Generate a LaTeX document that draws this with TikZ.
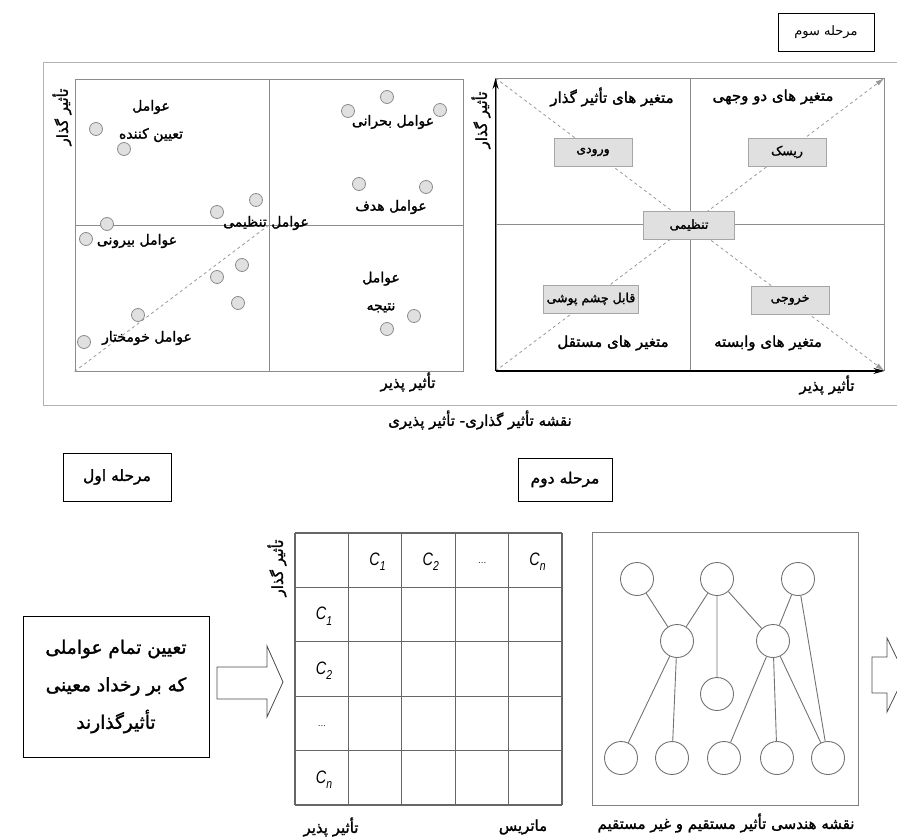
\documentclass[tikz,border=0pt]{standalone}
\usepackage{graphicx}
\usepackage{fontspec}
\setsansfont{Liberation Sans}
\newfontfamily\fafont[Script=Arabic]{DejaVu Sans}
\newfontfamily\faboldfont[Script=Arabic,FakeBold=1.6]{DejaVu Sans}
\TeXXeTstate=1
\usetikzlibrary{positioning,arrows.meta}
\newcommand{\fa}[1]{{\faboldfont\beginR #1\endR}}
\newcommand{\fn}[1]{{\fafont\beginR #1\endR}}
\newcommand{\cname}[1]{\scalebox{0.8}[1]{\textsf{\textit{C}\raisebox{-0.3em}{\fontsize{13}{13}\selectfont\textit{#1}}}}}

\begin{document}
\begin{tikzpicture}[
    x=1pt, y=-1pt,
    panel/.style={rectangle, draw=black!45, line width=0.9pt, minimum width=388pt, minimum height=292pt, inner sep=0pt},
    stage/.style={rectangle, draw, line width=0.9pt, font=\fontsize{15.5}{18}\selectfont},
    tag/.style={rectangle, draw=black!35, fill=black!12, line width=0.8pt, minimum width=78pt, minimum height=28pt, font=\fontsize{12.5}{14}\selectfont},
    dot/.style={circle, draw=black!45, fill=black!12, line width=0.8pt, minimum size=13pt, inner sep=0pt},
    vtx/.style={circle, draw=black!55, line width=0.9pt, minimum size=33pt, inner sep=0pt},
    lbl/.style={font=\fontsize{14}{28}\selectfont, align=center, inner sep=1pt},
    heading/.style={font=\fontsize{15}{18}\selectfont, inner sep=1pt},
    cell/.style={font=\fontsize{18}{18}\selectfont, inner sep=0pt},
    midline/.style={draw=black!45, line width=0.9pt},
    gridline/.style={draw=black!60, line width=1.1pt},
    axis/.style={line width=1.6pt, -{Stealth[length=11pt,width=6pt]}},
    diag/.style={dashed, draw=black!40, line width=0.8pt},
    hollow/.style={draw=black!70, line width=0.8pt, fill=white}
]
    \clip (0,0) rectangle (897,837);

    % Frame of the third stage
    \draw[black!30, line width=1pt] (897,63) -- (43,63) -- (43,405) -- (897,405);
    \node[stage, minimum width=96pt, minimum height=38pt, font=\fontsize{13}{15}\selectfont] (stage3) at (826,32) {\fn{مرحله سوم}};

    % Left panel
    \node[panel] (lpanel) at (269,225) {};
    \draw[midline] (lpanel.north) -- (lpanel.south) (lpanel.west) -- (lpanel.east);
    \draw[diag] (lpanel.south west) -- (lpanel.center);
    \foreach \x/\y [count=\i] in {96/129, 124/149, 387/97, 348/111, 440/110, 359/184, 426/187,
        256/200, 217/212, 107/224, 86/239, 242/265, 217/277, 238/303, 138/315, 84/342, 414/316, 387/329}
        \node[dot] (dot\i) at (\x,\y) {};

    % Labels
    \node[lbl] (determ) at (151,121) {\fa{عوامل}\\\fa{تعیین کننده}};
    \node[lbl] (crit) at (393,122) {\fa{عوامل بحرانی}};
    \node[lbl] (target) at (391,207) {\fa{عوامل هدف}};
    \node[lbl] (regulf) at (266,223) {\fa{عوامل تنظیمی}};
    \node[lbl] (extern) at (137,241) {\fa{عوامل بیرونی}};
    \node[lbl] (result) at (381,292) {\fa{عوامل}\\\fa{نتیجه}};
    \node[lbl] (auton) at (147,338) {\fa{عوامل خومختار}};
    \node[heading, rotate=90] (lyaxis) at (62,117) {\fa{تأثیر گذار}};
    \node[heading] (lxaxis) at (408,382) {\fa{تأثیر پذیر}};

    % Right panel
    \node[panel] (rpanel) at (690,224.5) {};
    \draw[midline] (rpanel.north) -- (rpanel.south) (rpanel.west) -- (rpanel.east);
    \draw[diag, -{Latex[length=9pt,width=5pt]}] (rpanel.south west) -- (rpanel.north east);
    \draw[diag, -{Latex[length=9pt,width=5pt]}] (rpanel.north west) -- (rpanel.south east);
    \draw[axis] (rpanel.south west) -- (rpanel.north west);
    \draw[axis] (rpanel.south west) -- (rpanel.south east);
    \node[tag] (input) at (593,152) {\fa{ورودی}};
    \node[tag] (risk) at (787,152) {\fa{ریسک}};
    \node[tag, minimum width=91pt] (regul) at (689,225) {\fa{تنظیمی}};
    \node[tag] (ignor) at (591,299) {\fa{قابل چشم پوشی}};
    \node[tag] (output) at (790,300) {\fa{خروجی}};
    \node[heading] (influent) at (612,97) {\fa{متغیر های تأثیر گذار}};
    \node[heading] (dual) at (773,97) {\fa{متغیر های دو وجهی}};
    \node[heading] (indep) at (613,343) {\fa{متغیر های مستقل}};
    \node[heading] (depend) at (768,343) {\fa{متغیر های وابسته}};
    \node[heading, rotate=90] (ryaxis) at (481,120) {\fa{تأثیر گذار}};
    \node[heading] (rxaxis) at (827,385) {\fa{تأثیر پذیر}};
    \node[heading] (mapcap) at (480,420) {\fa{نقشه تأثیر گذاری- تأثیر پذیری}};

    % First stage
    \node[stage, minimum width=108pt, minimum height=48pt] (stage1) at (117,477) {\fa{مرحله اول}};
    \node[rectangle, draw, line width=0.9pt, minimum width=186pt, minimum height=141pt, align=center,
        font=\fontsize{18.5}{37.5}\selectfont] (factors) at (116,686.5)
        {\fa{تعیین تمام عواملی}\\\fa{که بر رخداد معینی}\\\fa{تأثیرگذارند}};
    \draw[hollow] (217,667) -- (267,667) -- (267,646) -- (283,682) -- (267,717) -- (267,699) -- (217,699) -- cycle;

    % Second stage: matrix
    \node[stage, minimum width=94pt, minimum height=43pt] (stage2) at (565,479.5) {\fa{مرحله دوم}};
    \foreach \i in {0,...,5} {
        \draw[gridline] ({295+53.4*\i},533) -- ({295+53.4*\i},805);
        \draw[gridline] (295,{533+54.4*\i}) -- (562,{533+54.4*\i});
    }
    \foreach \k/\s in {1/1, 2/2, 4/n} {
        \node[cell] (col\k) at ({324+53.4*\k},562) {\cname{\s}};
        \node[cell] (row\k) at (324,{562+54.4*\k}) {\cname{\s}};
    }
    \node[cell, font=\fontsize{10}{10}\selectfont] (col3) at ({322+53.4*3},563) {...};
    \node[cell, font=\fontsize{10}{10}\selectfont] (row3) at (322,{563+54.4*3}) {...};
    \node[heading, rotate=90] (myaxis) at (277,568) {\fa{تأثیر گذار}};
    \node[heading] (mxaxis) at (331,827) {\fa{تأثیر پذیر}};
    \node[heading] (mcap) at (523,827) {\fa{ماتریس}};

    % Second stage: graph
    \node[rectangle, draw=black!50, line width=0.9pt, minimum width=266pt, minimum height=273pt] (gbox) at (725,668.5) {};
    \node[vtx] (t1) at (637,579) {};
    \node[vtx] (t2) at (717,579) {};
    \node[vtx] (t3) at (798,579) {};
    \node[vtx] (m1) at (677,641) {};
    \node[vtx] (m2) at (773,641) {};
    \node[vtx] (m3) at (717,694) {};
    \foreach \x [count=\i] in {621,672,724,777,828}
        \node[vtx] (b\i) at (\x,758) {};
    \draw[black!55, line width=0.9pt] (t1) -- (m1) (t2) -- (m1) (t2) -- (m3) (t2) -- (m2) (t3) -- (m2) (t3) -- (b5)
        (m1) -- (b1) (m1) -- (b2) (m2) -- (b3) (m2) -- (b4) (m2) -- (b5);
    \node[heading] (gcap) at (726,823) {\fa{نقشه هندسی تأثیر مستقیم و غیر مستقیم}};
    \draw[hollow] (872,657) -- (887,657) -- (887,638) -- (905,675) -- (887,712) -- (887,693) -- (872,693) -- cycle;
\end{tikzpicture}
\end{document}
